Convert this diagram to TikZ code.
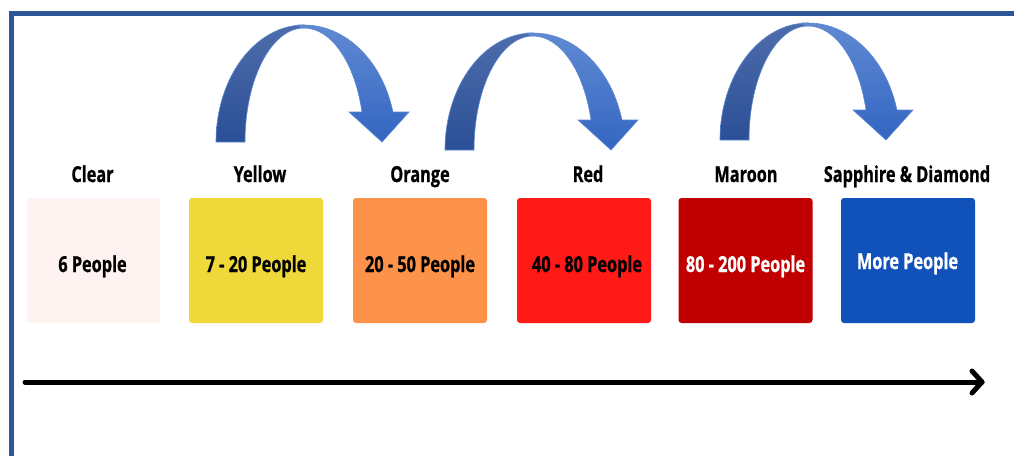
\documentclass[tikz,border=0pt]{standalone}
\usepackage{fontspec}
\usetikzlibrary{calc}
\newfontfamily\tierfont[FakeStretch=0.74, FakeBold=0.8]{Open Sans}

\definecolor{frameblue}{HTML}{2F5597}
\definecolor{clearbox}{HTML}{FFF3F2}
\definecolor{yellowbox}{HTML}{EED83A}
\definecolor{orangebox}{HTML}{FD924A}
\definecolor{redbox}{HTML}{FF1A17}
\definecolor{maroonbox}{HTML}{C00000}
\definecolor{sapphirebox}{HTML}{1052BA}
\definecolor{backtop}{HTML}{4E6CAA}
\definecolor{backbot}{HTML}{2B4F97}
\definecolor{fronttop}{HTML}{6089D2}
\definecolor{frontbot}{HTML}{3366C2}
\definecolor{ribbonedge}{HTML}{5B87D2}

\tikzset{
  tierbox/.style={rectangle, rounded corners=3pt, inner sep=0pt, draw=none,
    minimum width=134pt, minimum height=125pt},
  tiertext/.style={anchor=base, inner sep=0pt,
    font=\tierfont\bfseries\fontsize{22}{24}\selectfont},
  tiername/.style={anchor=base, inner sep=0pt,
    font=\tierfont\bfseries\fontsize{22}{24}\selectfont},
  % twisted ribbon arrow bending over to the right
  uturn/.pic={
    \shade[top color=backtop, bottom color=backbot, draw=ribbonedge, line width=0.6pt]
      (-88,0) arc[start angle=180, end angle=270, x radius=88, y radius=117]
      -- (0,-114) arc[start angle=270, end angle=180, x radius=59, y radius=114] -- cycle;
    \shade[top color=fronttop, bottom color=frontbot, draw=ribbonedge, line width=0.6pt]
      (-6,-117) -- (0,-117) arc[start angle=270, end angle=345.16, x radius=92, y radius=117]
      -- (105,-30) -- (78,0) -- (45,-30)
      -- (58,-30) arc[start angle=344.74, end angle=270, x radius=60, y radius=114]
      -- (-4,-115) -- cycle;
  }
}

\begin{document}
\begin{tikzpicture}[x=1pt, y=-1pt]
  \useasboundingbox (0,0) rectangle (1014,456);
  \fill[white] (0,0) rectangle (1014,456);

  % frame
  \draw[frameblue, line width=5.5pt] (11.5,456) -- (11.5,13.5) -- (1014,13.5);

  % ribbon arrows
  \pic (r1) at (304,142) {uturn};
  \pic (r2) at (533,150) {uturn};
  \pic (r3) at (808,140) {uturn};

  % tier names
  \node[tiername] (n1) at (92.5,182) {Clear};
  \node[tiername] (n2) at (260,182) {Yellow};
  \node[tiername] (n3) at (420,182) {Orange};
  \node[tiername] (n4) at (588,182) {Red};
  \node[tiername] (n5) at (746,182) {Maroon};
  \node[tiername] (n6) at (907,182) {Sapphire \& Diamond};

  % tier boxes
  \node[tierbox, fill=clearbox, minimum width=133pt] (b1) at (93.5,260.5) {};
  \node[tierbox, fill=yellowbox] (b2) at (256,260.5) {};
  \node[tierbox, fill=orangebox] (b3) at (420,260.5) {};
  \node[tierbox, fill=redbox] (b4) at (584,260.5) {};
  \node[tierbox, fill=maroonbox] (b5) at (745.5,260.5) {};
  \node[tierbox, fill=sapphirebox] (b6) at (908,260.5) {};

  % group sizes
  \node[tiertext] (t1) at (92.5,272) {6 People};
  \node[tiertext] (t2) at (256,272) {7 - 20 People};
  \node[tiertext] (t3) at (420,272) {20 - 50 People};
  \node[tiertext] (t4) at (587,272) {40 - 80 People};
  \node[tiertext, text=white] (t5) at (745.5,272) {80 - 200 People};
  \node[tiertext, text=white] (t6) at (907.5,269) {More People};

  % growth axis
  \coordinate (axstart) at (25,382);
  \coordinate (axend) at (982,382);
  \draw[line width=5pt, line cap=round] (axstart) -- (axend);
  \draw[line width=5pt, line cap=round, line join=round]
    ($(axend)+(-10,-11)$) -- (axend) -- ($(axend)+(-10,11)$);
\end{tikzpicture}
\end{document}
